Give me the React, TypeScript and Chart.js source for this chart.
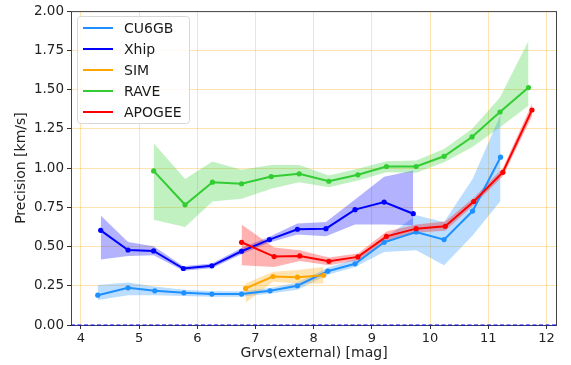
import React, { useEffect, useRef } from "react";
import { Chart, registerables } from "chart.js";
Chart.register(...registerables);

const xTicks = [4, 5, 6, 7, 8, 9, 10, 11, 12];
const yTicks = [0, 0.25, 0.5, 0.75, 1.0, 1.25, 1.5, 1.75, 2.0];

const cuX = [4.29, 4.81, 5.27, 5.77, 6.25, 6.76, 7.25, 7.72, 8.24, 8.71, 9.21, 9.76, 10.24, 10.73, 11.21];
const cuY = [0.19, 0.237, 0.218, 0.205, 0.197, 0.197, 0.218, 0.25, 0.343, 0.39, 0.527, 0.593, 0.544, 0.726, 1.069];
const cuLo = [0.16, 0.19, 0.19, 0.185, 0.18, 0.18, 0.2, 0.225, 0.32, 0.37, 0.465, 0.476, 0.381, 0.57, 0.79];
const cuHi = [0.255, 0.27, 0.245, 0.225, 0.215, 0.215, 0.235, 0.27, 0.365, 0.42, 0.55, 0.7, 0.656, 0.93, 1.34];

const xhX = [4.34, 4.81, 5.25, 5.76, 6.25, 6.76, 7.24, 7.72, 8.21, 8.71, 9.21, 9.71];
const xhY = [0.603, 0.478, 0.472, 0.36, 0.377, 0.47, 0.544, 0.61, 0.614, 0.735, 0.783, 0.709];
const xhLo = [0.417, 0.44, 0.445, 0.345, 0.362, 0.45, 0.525, 0.576, 0.565, 0.641, 0.641, 0.635];
const xhHi = [0.698, 0.529, 0.502, 0.375, 0.392, 0.49, 0.563, 0.646, 0.656, 0.8, 0.945, 0.984];

const simX = [6.83, 7.3, 7.72, 8.17];
const simY = [0.233, 0.309, 0.305, 0.317];
const simLo = [0.142, 0.275, 0.265, 0.265];
const simHi = [0.265, 0.339, 0.35, 0.37];

const raveX = [5.25, 5.79, 6.26, 6.76, 7.27, 7.75, 8.26, 8.76, 9.25, 9.76, 10.24, 10.72, 11.2, 11.69];
const raveY = [0.982, 0.766, 0.91, 0.9, 0.946, 0.963, 0.916, 0.957, 1.01, 1.01, 1.075, 1.198, 1.357, 1.513];
const raveLo = [0.671, 0.624, 0.787, 0.804, 0.868, 0.91, 0.878, 0.92, 0.973, 0.97, 1.037, 1.132, 1.26, 1.397];
const raveHi = [1.158, 0.931, 1.041, 0.989, 1.02, 1.02, 0.952, 0.995, 1.043, 1.048, 1.122, 1.249, 1.45, 1.81];

const apoX = [6.76, 7.32, 7.76, 8.26, 8.76, 9.25, 9.76, 10.26, 10.75, 11.25, 11.75];
const apoY = [0.527, 0.436, 0.44, 0.406, 0.434, 0.565, 0.614, 0.629, 0.787, 0.973, 1.37];
const apoLo = [0.381, 0.37, 0.408, 0.38, 0.412, 0.535, 0.59, 0.6, 0.765, 0.948, 1.33];
const apoHi = [0.641, 0.493, 0.476, 0.43, 0.456, 0.595, 0.64, 0.66, 0.81, 1.0, 1.41];

const seriesNames = ["CU6GB", "Xhip", "SIM", "RAVE", "APOGEE"];
const seriesColors = ["#1e90ff", "#0000ff", "#ffa500", "#32cd32", "#ff0000"];
const bandColors = [
  "rgba(30,144,255,0.3)",
  "rgba(0,0,255,0.3)",
  "rgba(255,165,0,0.3)",
  "rgba(50,205,50,0.3)",
  "rgba(255,0,0,0.3)",
];

const FONT = "DejaVu Sans";

function pts(xs: number[], ys: number[]) {
  return xs.map((x, i) => ({ x, y: ys[i] }));
}

export default function App() {
  const ref = useRef<HTMLCanvasElement>(null);
  useEffect(() => {
    document.body.style.margin = "0";
    const series = [
      [cuX, cuY, cuLo, cuHi],
      [xhX, xhY, xhLo, xhHi],
      [simX, simY, simLo, simHi],
      [raveX, raveY, raveLo, raveHi],
      [apoX, apoY, apoLo, apoHi],
    ];
    const datasets: any[] = [];
    series.forEach((s, i) => {
      datasets.push({
        label: seriesNames[i] + " lo",
        data: pts(s[0], s[2]),
        borderWidth: 0,
        pointRadius: 0,
        fill: false,
        order: 20 - i,
        borderColor: "rgba(0,0,0,0)",
      });
      datasets.push({
        label: seriesNames[i] + " hi",
        data: pts(s[0], s[3]),
        borderWidth: 0,
        pointRadius: 0,
        fill: "-1",
        backgroundColor: bandColors[i],
        borderColor: "rgba(0,0,0,0)",
        order: 20 - i,
      });
    });
    series.forEach((s, i) => {
      datasets.push({
        label: seriesNames[i],
        data: pts(s[0], s[1]),
        borderColor: seriesColors[i],
        backgroundColor: seriesColors[i],
        borderWidth: 2,
        pointRadius: 2.6,
        pointBorderWidth: 0,
        fill: false,
        order: 10 - i,
      });
    });

    const framePlugin = {
      id: "frame",
      afterDatasetsDraw(chart: any) {
        const { ctx, chartArea: a, scales } = chart;
        ctx.save();
        ctx.strokeStyle = "#444";
        ctx.lineWidth = 1;
        ctx.strokeRect(a.left + 0.5, a.top + 0.5, a.right - a.left - 1, a.bottom - a.top);
        const y0 = scales.y.getPixelForValue(0);
        ctx.strokeStyle = "#0000ff";
        ctx.setLineDash([4, 2.5]);
        ctx.beginPath();
        ctx.moveTo(a.left, y0);
        ctx.lineTo(a.right, y0);
        ctx.stroke();
        ctx.setLineDash([]);
        // legend
        const bx = 77.5, by = 16.5, bw = 112, bh = 107;
        ctx.fillStyle = "rgba(255,255,255,0.85)";
        ctx.strokeStyle = "#d8d8d8";
        ctx.beginPath();
        (ctx as any).roundRect(bx, by, bw, bh, 3);
        ctx.fill();
        ctx.stroke();
        ctx.font = `14px "${FONT}"`;
        ctx.textBaseline = "middle";
        ctx.textAlign = "left";
        seriesNames.forEach((n, i) => {
          const cy = 28 + i * 21;
          ctx.strokeStyle = seriesColors[i];
          ctx.lineWidth = 2;
          ctx.beginPath();
          ctx.moveTo(83, cy);
          ctx.lineTo(113, cy);
          ctx.stroke();
          ctx.fillStyle = "#1a1a1a";
          ctx.fillText(n, 124, cy + 1);
        });
        ctx.restore();
      },
    };

    const chart = new Chart(ref.current!, {
      type: "line",
      data: { datasets },
      options: {
        animation: false,
        responsive: false,
        events: [],
        layout: { padding: { top: 10, right: 14, left: 0, bottom: 0 } },
        plugins: { legend: { display: false }, tooltip: { enabled: false } },
        scales: {
          x: {
            type: "linear",
            min: 3.83,
            max: 12.18,
            afterBuildTicks: (axis: any) => {
              axis.ticks = xTicks.map((v) => ({ value: v }));
            },
            afterFit: (scale: any) => {
              scale.height = 40;
            },
            grid: {
              color: "rgba(255,165,0,0.3)",
              tickColor: "#333",
              tickLength: 4,
            },
            border: { display: false },
            ticks: {
              color: "#222",
              font: { family: FONT, size: 13 },
              padding: 2,
              maxRotation: 0,
              callback: (v: any) => String(v),
            },
            title: {
              display: true,
              text: "Grvs(external) [mag]",
              color: "#222",
              font: { family: FONT, size: 14 },
              padding: { top: 0, bottom: 3 },
            },
          },
          y: {
            type: "linear",
            min: 0,
            max: 2,
            afterBuildTicks: (axis: any) => {
              axis.ticks = yTicks.map((v) => ({ value: v }));
            },
            afterFit: (scale: any) => {
              scale.width = 71;
            },
            grid: {
              color: "rgba(255,165,0,0.3)",
              tickColor: "#333",
              tickLength: 4,
            },
            border: { display: false },
            ticks: {
              color: "#222",
              font: { family: FONT, size: 13.5 },
              padding: 3,
              callback: (v: any) => Number(v).toFixed(2),
            },
            title: {
              display: true,
              text: "Precision [km/s]",
              color: "#222",
              font: { family: FONT, size: 14 },
              padding: { top: 13, bottom: 0 },
            },
          },
        },
      },
      plugins: [framePlugin],
    });
    return () => chart.destroy();
  }, []);
  return (
    <div style={{ position: "absolute", left: 0, top: 0, width: 571, height: 365 }}>
      <canvas ref={ref} width={571} height={365} style={{ width: 571, height: 365 }} />
    </div>
  );
}
